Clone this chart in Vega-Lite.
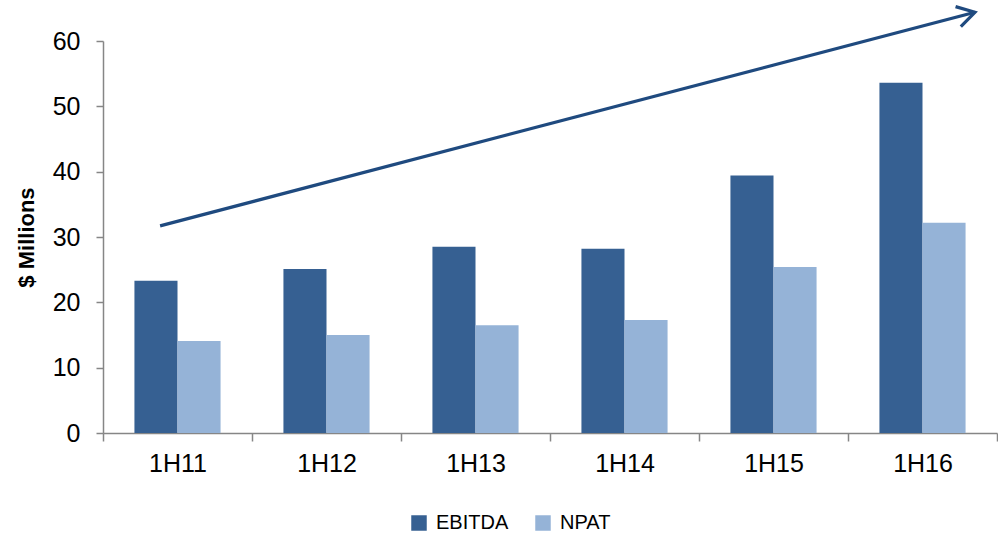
{
  "$schema": "https://vega.github.io/schema/vega-lite/v6.json",
  "width": 894,
  "height": 392,
  "autosize": {"type": "none"},
  "padding": {"left": 103, "top": 41, "right": 1, "bottom": 100},
  "background": "white",
  "config": {
    "view": {"stroke": null},
    "font": "Liberation Sans"
  },
  "datasets": {
    "bars": [
      {"period": "1H11", "series": "EBITDA", "value": 23.3},
      {"period": "1H11", "series": "NPAT", "value": 14.1},
      {"period": "1H12", "series": "EBITDA", "value": 25.1},
      {"period": "1H12", "series": "NPAT", "value": 15.0},
      {"period": "1H13", "series": "EBITDA", "value": 28.5},
      {"period": "1H13", "series": "NPAT", "value": 16.5},
      {"period": "1H14", "series": "EBITDA", "value": 28.2},
      {"period": "1H14", "series": "NPAT", "value": 17.3},
      {"period": "1H15", "series": "EBITDA", "value": 39.4},
      {"period": "1H15", "series": "NPAT", "value": 25.4},
      {"period": "1H16", "series": "EBITDA", "value": 53.6},
      {"period": "1H16", "series": "NPAT", "value": 32.2}
    ],
    "arrow": [
      {"pos": 0.383, "level": 31.7, "part": "start"},
      {"pos": 5.852, "level": 64.4, "part": "tip"}
    ]
  },
  "layer": [
    {
      "data": {"name": "bars"},
      "mark": {"type": "bar"},
      "encoding": {
        "x": {
          "field": "period",
          "type": "nominal",
          "sort": null,
          "scale": {"paddingInner": 0, "paddingOuter": 0},
          "axis": {
            "title": null,
            "labelAngle": 0,
            "labelFontSize": 25,
            "labelColor": "#000000",
            "labelPadding": 10,
            "domainColor": "#868686",
            "domainWidth": 1.5,
            "tickColor": "#868686",
            "tickWidth": 1.5,
            "tickSize": 8,
            "tickBand": "extent"
          }
        },
        "xOffset": {
          "field": "series",
          "type": "nominal",
          "sort": ["EBITDA", "NPAT"],
          "scale": {"paddingInner": 0, "paddingOuter": 0.73}
        },
        "y": {
          "field": "value",
          "type": "quantitative",
          "scale": {"domain": [0, 60], "nice": false},
          "axis": {
            "title": "$ Millions",
            "titleFontSize": 22,
            "titleFontWeight": "bold",
            "titleColor": "#000000",
            "titlePadding": 14,
            "values": [0, 10, 20, 30, 40, 50, 60],
            "grid": false,
            "labelFontSize": 25,
            "labelColor": "#000000",
            "labelPadding": 16,
            "domainColor": "#868686",
            "domainWidth": 1.5,
            "tickColor": "#868686",
            "tickWidth": 1.5,
            "tickSize": 7
          }
        },
        "color": {
          "field": "series",
          "type": "nominal",
          "scale": {"domain": ["EBITDA", "NPAT"], "range": ["#366092", "#95B3D7"]},
          "legend": {
            "title": null,
            "orient": "none",
            "direction": "horizontal",
            "legendX": 306,
            "legendY": 472,
            "padding": 0,
            "symbolType": "square",
            "symbolSize": 240,
            "symbolStrokeWidth": 0,
            "labelFontSize": 20,
            "labelColor": "#000000",
            "labelOffset": 7,
            "columnPadding": 24
          }
        }
      }
    },
    {
      "data": {"name": "arrow"},
      "mark": {"type": "line", "color": "#1F4A7F", "strokeWidth": 3.2, "clip": false},
      "encoding": {
        "x": {"field": "pos", "type": "quantitative", "scale": {"domain": [0, 6], "nice": false, "zero": false}, "axis": null},
        "y": {"field": "level", "type": "quantitative"}
      }
    },
    {
      "data": {"name": "arrow"},
      "transform": [{"filter": "datum.part === 'tip'"}],
      "mark": {
        "type": "point",
        "shape": "M-1,-0.6L0,0L-1,0.6",
        "filled": false,
        "size": 1200,
        "angle": 345.3,
        "stroke": "#1F4A7F",
        "strokeWidth": 3.2,
        "opacity": 1,
        "strokeJoin": "miter",
        "clip": false
      },
      "encoding": {
        "x": {"field": "pos", "type": "quantitative", "scale": {"domain": [0, 6], "nice": false, "zero": false}, "axis": null},
        "y": {"field": "level", "type": "quantitative"}
      }
    }
  ],
  "resolve": {"scale": {"x": "independent"}}
}
